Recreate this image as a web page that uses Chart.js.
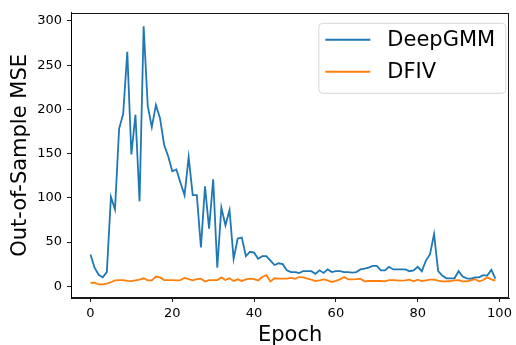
<!DOCTYPE html>
<html>
<head>
<meta charset="utf-8">
<script src="https://cdn.jsdelivr.net/npm/chart.js@4/dist/chart.umd.min.js"></script>
<style>
  html, body { margin: 0; padding: 0; background: #fff; }
  #wrap { width: 516px; height: 345px; }
</style>
</head>
<body>
<div id="wrap"><canvas id="chart" width="516" height="345"></canvas></div>
<script>
// values, one per epoch (0..99)
const deepGMM = [
  36, 21, 13, 10, 16, 101, 87, 178, 195, 265,
  149, 194, 96, 294, 204, 180, 205, 190, 160, 147,
  130, 132, 117, 103, 146, 103, 103, 44, 113, 65,
  121, 21, 89, 69, 86, 31, 54, 55, 34, 39,
  38, 31, 34, 34, 29, 24, 26, 25, 18, 16,
  16, 15, 17, 17, 17, 14, 18, 15, 19, 16,
  17, 17, 16, 16, 15.5, 16, 19, 20, 21, 23,
  23, 18, 18, 22, 19, 19, 19, 19, 17, 18,
  22, 17, 29, 36, 59, 17, 12, 9, 9, 9,
  17, 11, 9, 8.5, 10, 10, 12.5, 12, 18.5, 8.5
];
const dfiv = [
  3.7, 4, 2, 2, 3, 4.5, 6.6, 7, 7, 6,
  5.7, 6.6, 7.6, 9, 6.6, 6.6, 11, 10, 7, 7,
  7, 6.6, 7, 9.4, 8, 6.6, 8, 8.5, 5.3, 7,
  7, 7, 10, 7, 9, 6, 7.8, 6, 7.8, 8.5,
  8, 6.6, 10.4, 12.5, 5.5, 9, 8.5, 8.5, 8.5, 9.4,
  8.5, 10.4, 10, 8.5, 7.4, 5.9, 6.6, 7.8, 6.6, 4.8,
  6, 7.8, 10.4, 7.8, 7.8, 8, 8.5, 5.5, 5.9, 5.9,
  5.9, 5.9, 5.5, 7, 7, 6.6, 6.3, 6.6, 7.4, 5.5,
  7.4, 5.9, 6.6, 7.4, 7.4, 6.3, 5.5, 5.5, 5.9, 6.6,
  7, 5.5, 5.5, 6.6, 8, 5.5, 7, 10, 7.8, 6.3
];
const seriesNames = ["DeepGMM", "DFIV"];
const xTicks = [0, 20, 40, 60, 80, 100];
const yTicks = [0, 50, 100, 150, 200, 250, 300];

const FONT = "'DejaVu Sans', sans-serif";
const toPoints = (arr) => arr.map((v, i) => ({ x: i, y: v }));

// full box around the plot, like matplotlib spines
const frame = {
  id: "frame",
  afterDatasetsDraw(chart) {
    const { ctx, chartArea: a } = chart;
    ctx.save();
    ctx.strokeStyle = "#000";
    ctx.lineWidth = 0.9;
    ctx.strokeRect(Math.round(a.left) + 0.5, Math.round(a.top) + 0.5,
      Math.round(a.right - a.left) - 1, Math.round(a.bottom - a.top) - 1);
    ctx.restore();
  }
};

// legend box drawn inside the upper right corner
const innerLegend = {
  id: "innerLegend",
  afterDraw(chart) {
    const { ctx, chartArea: a } = chart;
    const w = 187, h = 70;
    const x = a.right - 4 - w, y = a.top + 10;
    ctx.save();
    ctx.beginPath();
    ctx.roundRect(x + 0.5, y + 0.5, w, h, 4);
    ctx.fillStyle = "rgba(255,255,255,0.8)";
    ctx.fill();
    ctx.strokeStyle = "#d6d6d6";
    ctx.lineWidth = 1;
    ctx.stroke();
    ctx.font = "21px " + FONT;
    ctx.textBaseline = "middle";
    chart.data.datasets.forEach((ds, i) => {
      const ly = y + 17 + i * 32;
      ctx.strokeStyle = ds.borderColor;
      ctx.lineWidth = 2;
      ctx.beginPath();
      ctx.moveTo(x + 7, ly);
      ctx.lineTo(x + 52, ly);
      ctx.stroke();
      ctx.fillStyle = "#000";
      ctx.fillText(ds.label, x + 69, ly + 1);
    });
    ctx.restore();
  }
};

new Chart(document.getElementById("chart"), {
  type: "line",
  data: {
    datasets: [
      { label: seriesNames[0], data: toPoints(deepGMM), borderColor: "#1f77b4", order: 1 },
      { label: seriesNames[1], data: toPoints(dfiv), borderColor: "#ff7f0e", order: 0 }
    ]
  },
  options: {
    responsive: false,
    animation: false,
    events: [],
    layout: { padding: { left: 0, right: 4, top: 7, bottom: 0 } },
    elements: {
      point: { radius: 0 },
      line: { borderWidth: 1.8, tension: 0, fill: false }
    },
    plugins: { legend: { display: false }, tooltip: { enabled: false } },
    scales: {
      x: {
        type: "linear",
        min: -4.76,
        max: 102.4,
        afterFit: (s) => { s.height = 47; },
        afterBuildTicks: (s) => { s.ticks = xTicks.map((v) => ({ value: v })); },
        grid: { drawOnChartArea: false, tickLength: 4, tickColor: "#000", tickWidth: 0.9 },
        border: { color: "#000", width: 0.9 },
        ticks: { color: "#000", padding: 4, maxRotation: 0, font: { family: FONT, size: 13 } },
        title: { display: true, text: "Epoch", color: "#000", padding: { top: 0, bottom: -3 }, font: { family: FONT, size: 21 } }
      },
      y: {
        type: "linear",
        min: -13.3,
        max: 309.2,
        afterFit: (s) => { s.width = 71; },
        afterBuildTicks: (s) => { s.ticks = yTicks.map((v) => ({ value: v })); },
        grid: { drawOnChartArea: false, tickLength: 4, tickColor: "#000", tickWidth: 0.9 },
        border: { color: "#000", width: 0.9 },
        ticks: { color: "#000", padding: 5, font: { family: FONT, size: 13 } },
        title: { display: true, text: "Out-of-Sample MSE", color: "#000", padding: { top: 8, bottom: 0 }, font: { family: FONT, size: 21 } }
      }
    }
  },
  plugins: [frame, innerLegend]
});
</script>
</body>
</html>
